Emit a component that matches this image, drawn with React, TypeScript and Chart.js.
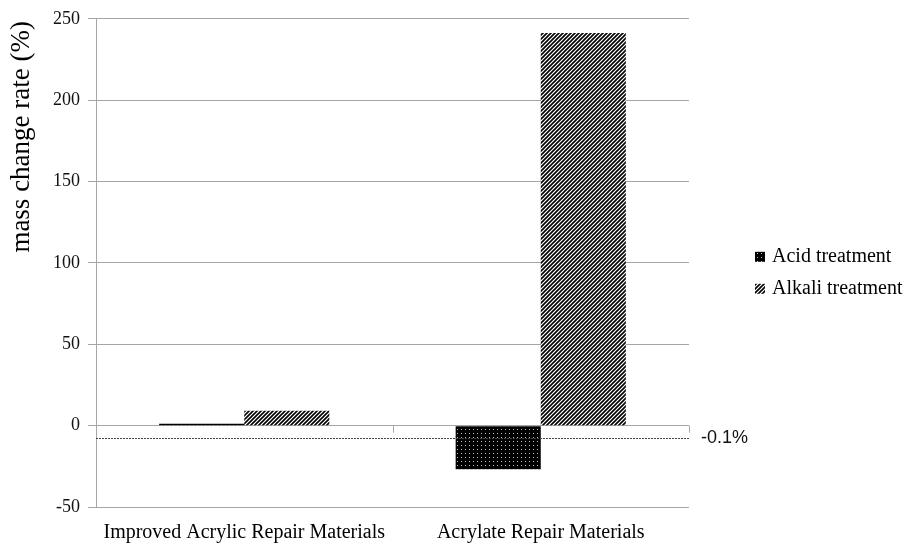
import React, { useEffect, useRef } from 'react';
import { Chart, registerables } from 'chart.js';

Chart.register(...registerables);

const categories = ['Improved Acrylic Repair Materials', 'Acrylate Repair Materials'];
const seriesNames = ['Acid treatment', 'Alkali treatment'];
const acidValues = [1.1, -26.8];
const alkaliValues = [9.2, 241.3];
const yMin = -50;
const yMax = 250;
const yStep = 50;
const referenceValue = -7.5;
const referenceLabel = '-0.1%';
const yAxisTitle = 'mass change rate (%)';

const SERIF = '"Liberation Serif", "Times New Roman", serif';
const SANS = '"Liberation Sans", Arial, sans-serif';
const GRID = '#a6a6a6';

function makeDotPattern(ctx: CanvasRenderingContext2D) {
  const c = document.createElement('canvas');
  c.width = 4;
  c.height = 4;
  const g = c.getContext('2d')!;
  g.fillStyle = '#000';
  g.fillRect(0, 0, 4, 4);
  g.fillStyle = '#bdbdbd';
  g.fillRect(1, 1, 1, 1);
  return ctx.createPattern(c, 'repeat')!;
}

function makeHatchPattern(ctx: CanvasRenderingContext2D) {
  const s = 4;
  const c = document.createElement('canvas');
  c.width = s;
  c.height = s;
  const g = c.getContext('2d')!;
  g.fillStyle = '#fff';
  g.fillRect(0, 0, s, s);
  g.strokeStyle = '#000';
  g.lineWidth = 1.6;
  g.beginPath();
  g.moveTo(-1, s + 1);
  g.lineTo(s + 1, -1);
  g.moveTo(-1, 1);
  g.lineTo(1, -1);
  g.moveTo(s - 1, s + 1);
  g.lineTo(s + 1, s - 1);
  g.stroke();
  return ctx.createPattern(c, 'repeat')!;
}

export default function App() {
  const ref = useRef<HTMLCanvasElement | null>(null);

  useEffect(() => {
    const canvas = ref.current!;
    const ctx = canvas.getContext('2d')!;
    const dot = makeDotPattern(ctx);
    const hatch = makeHatchPattern(ctx);
    const fills = [dot, hatch];

    const decor = {
      id: 'decor',
      afterDatasetsDraw(chart: any) {
        const c = chart.ctx as CanvasRenderingContext2D;
        const { left, right } = chart.chartArea;
        const y = chart.scales.y;
        const x = chart.scales.x;
        const zeroY = y.getPixelForValue(0);
        c.save();
        c.strokeStyle = GRID;
        c.lineWidth = 1;
        c.beginPath();
        for (let i = 0; i < categories.length; i++) {
          const bx = i < categories.length - 1
            ? (x.getPixelForValue(i) + x.getPixelForValue(i + 1)) / 2
            : right;
          const px = Math.round(bx) + 0.5;
          c.moveTo(px, zeroY);
          c.lineTo(px, zeroY + 7);
        }
        c.stroke();
        const ry = Math.round(y.getPixelForValue(referenceValue)) + 0.5;
        c.strokeStyle = '#444';
        c.setLineDash([2, 1]);
        c.beginPath();
        c.moveTo(left, ry);
        c.lineTo(right, ry);
        c.stroke();
        c.setLineDash([]);
        c.fillStyle = '#111';
        c.font = '18px ' + SANS;
        c.textAlign = 'left';
        c.textBaseline = 'middle';
        c.fillText(referenceLabel, right + 12, ry);
        c.restore();
      },
      afterDraw(chart: any) {
        const c = chart.ctx as CanvasRenderingContext2D;
        const { top, right } = chart.chartArea;
        c.save();
        c.fillStyle = '#000';
        c.font = '27px ' + SERIF;
        c.textAlign = 'center';
        c.textBaseline = 'middle';
        c.translate(22, top + 118);
        c.rotate(-Math.PI / 2);
        c.fillText(yAxisTitle, 0, 0);
        c.restore();
        c.save();
        c.font = '20px ' + SERIF;
        c.textAlign = 'left';
        c.textBaseline = 'middle';
        const lx = right + 66;
        const ly0 = top + 238;
        seriesNames.forEach((name, i) => {
          const ly = ly0 + i * 32;
          c.fillStyle = fills[i];
          c.fillRect(lx, ly - 5, 10, 10);
          c.fillStyle = '#000';
          c.fillText(name, lx + 17, ly);
        });
        c.restore();
      },
    };

    const chart = new Chart(canvas, {
      type: 'bar',
      data: {
        labels: categories,
        datasets: [
          { label: seriesNames[0], data: acidValues, backgroundColor: dot as any, borderWidth: 0 },
          { label: seriesNames[1], data: alkaliValues, backgroundColor: hatch as any, borderWidth: 0 },
        ],
      },
      options: {
        responsive: false,
        animation: false,
        devicePixelRatio: 1,
        layout: { padding: { top: 15, right: 220, left: 0, bottom: 0 } },
        plugins: { legend: { display: false }, tooltip: { enabled: false }, title: { display: false } },
        datasets: { bar: { categoryPercentage: 0.574, barPercentage: 1 } },
        scales: {
          x: {
            grid: { display: false },
            border: { display: false },
            ticks: { color: '#000', font: { family: SERIF, size: 20 }, padding: 6, maxRotation: 0, minRotation: 0, autoSkip: false },
            afterFit(scale: any) { scale.height = 36; },
          },
          y: {
            min: yMin,
            max: yMax,
            ticks: { stepSize: yStep, color: '#111', font: { family: SERIF, size: 18 }, padding: 8 },
            grid: { color: GRID, tickLength: 8, lineWidth: 1 },
            border: { display: true, color: GRID },
            afterFit(scale: any) { scale.width = 96; },
          },
        },
      },
      plugins: [decor],
    });
    return () => chart.destroy();
  }, []);

  return (
    <div style={{ position: 'absolute', left: 0, top: 0, width: 909, height: 543, background: '#fff' }}>
      <canvas ref={ref} width={909} height={543} style={{ display: 'block' }} />
    </div>
  );
}
